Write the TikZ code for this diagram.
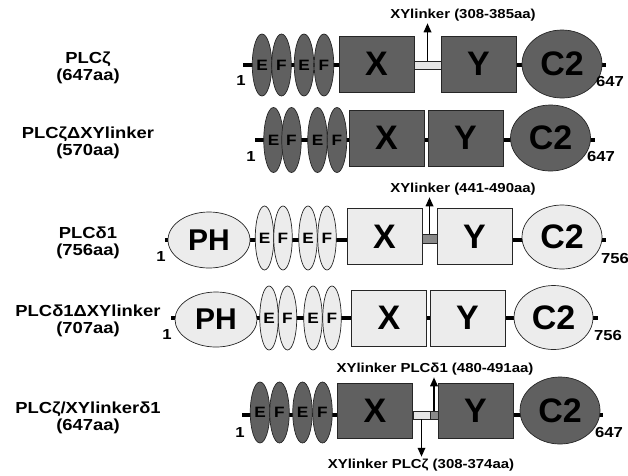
\documentclass[tikz,border=0pt]{standalone}
\usepackage{fontspec}
\setmainfont{Liberation Sans}
\newfontfamily\lblfont{Liberation Sans}[FakeStretch=1.15]
\usetikzlibrary{shapes.geometric,arrows.meta,backgrounds}
\definecolor{zdom}{RGB}{96,96,96}
\definecolor{ddom}{RGB}{236,236,236}
\definecolor{zlink}{RGB}{230,230,230}
\definecolor{dlink}{RGB}{138,138,138}
\tikzset{
  backbone/.style={line width=4.5pt},
  lbl/.style={font=\lblfont\bfseries\fontsize{13}{17}\selectfont, inner sep=2pt},
  numlbl/.style={font=\lblfont\bfseries\fontsize{14.5}{17}\selectfont, inner sep=1pt},
  plcname/.style={font=\lblfont\bfseries\fontsize{16}{17}\selectfont, inner sep=1pt,
    align=center},
  dom/.style={draw=black!85, line width=0.7pt, inner sep=0pt,
    font=\bfseries\fontsize{34}{34}\selectfont},
  zbox/.style={dom, rectangle, fill=zdom, minimum width=75pt, minimum height=56pt},
  dbox/.style={dom, rectangle, fill=ddom, minimum width=75pt, minimum height=56pt},
  zc2/.style={dom, ellipse, fill=zdom, minimum width=80pt, minimum height=68pt},
  dc2/.style={dom, ellipse, fill=ddom, minimum width=80pt, minimum height=64pt},
  ph/.style={dom, ellipse, fill=ddom, minimum width=82pt, minimum height=56pt,
    font=\bfseries\fontsize{30}{30}\selectfont},
  zef/.style={dom, ellipse, fill=zdom, minimum width=19.5pt, minimum height=62pt,
    font=\lblfont\bfseries\fontsize{15}{15}\selectfont},
  efd/.style={dom, ellipse, fill=ddom, minimum width=18.5pt, minimum height=64pt,
    font=\lblfont\bfseries\fontsize{15}{15}\selectfont},
  zlinker/.style={draw=black!85, line width=0.6pt, fill=zlink, inner sep=0pt,
    minimum height=8pt},
  dlinker/.style={draw=black!85, line width=0.6pt, fill=dlink, inner sep=0pt,
    minimum height=9pt},
  pointer/.style={line width=1.7pt, -{Triangle[length=9pt,width=7.5pt]}}
}
\begin{document}
\begin{tikzpicture}[x=1pt,y=-1pt]
  \useasboundingbox (0,0) rectangle (628,475);

  % PLCzeta
  \node[plcname] (nm1) at (88,68) {PLCζ\\(647aa)};
  \coordinate (s1) at (243,65);
  \coordinate (e1) at (606,65);
  \foreach \x/\t [count=\i] in {262/E,281.5/F,304/E,324/F}
    \node[zef] (ef1\i) at (\x,65) {\t};
  \node[zbox] (x1) at (376.5,64) {X};
  \node[zlinker, minimum width=27pt] (l1) at (427.5,65) {};
  \node[zbox] (y1) at (478.5,64) {Y};
  \node[zc2] (c1) at (562,64) {C2};
  \node[lbl] (t1) at (463,15) {XYlinker (308-385aa)};
  \draw[pointer] (l1.north) -- (l1.north |- t1.south);
  \node[numlbl] (a1) at (241,81) {1};
  \node[numlbl] (b1) at (610,82) {647};

  % PLCzeta deleted XY linker
  \node[plcname] (nm2) at (88,143) {PLCζΔXYlinker\\(570aa)};
  \coordinate (s2) at (255,140);
  \coordinate (e2) at (595,140);
  \foreach \x/\t [count=\i] in {273.5/E,291.5/F,317.5/E,337/F}
    \node[zef, minimum height=65pt] (ef2\i) at (\x,140) {\t};
  \node[zbox] (x2) at (386.5,138) {X};
  \node[zbox] (y2) at (465.5,138) {Y};
  \node[zc2, minimum height=66pt] (c2) at (550.5,138) {C2};
  \node[numlbl] (a2) at (251,157) {1};
  \node[numlbl] (b2) at (601,157) {647};

  % PLCdelta1
  \node[plcname] (nm3) at (88,243) {PLCδ1\\(756aa)};
  \coordinate (s3) at (165,240);
  \coordinate (e3) at (606,240);
  \node[ph] (p3) at (209,240) {PH};
  \foreach \x/\t [count=\i] in {264.5/E,283/F,308/E,327/F}
    \node[efd] (ef3\i) at (\x,238) {\t};
  \node[dbox] (x3) at (384.5,236.5) {X};
  \node[dlinker, minimum width=15pt] (l3) at (429.5,239) {};
  \node[dbox] (y3) at (474.5,236.5) {Y};
  \node[dc2] (c3) at (562,237) {C2};
  \node[lbl] (t3) at (463,189) {XYlinker (441-490aa)};
  \draw[pointer] (l3.north) -- (l3.north |- t3.south);
  \node[numlbl] (a3) at (161,257) {1};
  \node[numlbl] (b3) at (615,258) {756};

  % PLCdelta1 deleted XY linker
  \node[plcname] (nm4) at (88,321) {PLCδ1ΔXYlinker\\(707aa)};
  \coordinate (s4) at (171,318);
  \coordinate (e4) at (598,318);
  \node[ph, minimum height=55pt] (p4) at (216,319.5) {PH};
  \foreach \x/\t [count=\i] in {269/E,287.5/F,313/E,332/F}
    \node[efd] (ef4\i) at (\x,318) {\t};
  \node[dbox] (x4) at (389,318) {X};
  \node[dbox] (y4) at (467.5,318) {Y};
  \node[dc2, minimum width=79pt] (c4) at (553.5,317.5) {C2};
  \node[numlbl] (a4) at (167,335) {1};
  \node[numlbl] (b4) at (608,335) {756};

  % PLCzeta with PLCdelta1 XY linker
  \node[plcname] (nm5) at (88,418) {PLCζ/XYlinkerδ1\\(647aa)};
  \coordinate (s5) at (242,415);
  \coordinate (e5) at (603,415);
  \foreach \x/\t [count=\i] in {260/E,279.5/F,302.5/E,322.5/F}
    \node[zef, minimum height=61pt] (ef5\i) at (\x,412.5) {\t};
  \node[zbox, minimum height=55pt] (x5) at (375,410.5) {X};
  \node[zlinker, minimum width=17pt] (l5) at (421.5,415) {};
  \node[dlinker, minimum width=8pt, minimum height=8pt] (m5) at (434,415) {};
  \node[zbox, minimum height=55pt] (y5) at (475.5,410.5) {Y};
  \node[zc2, minimum height=67pt] (c5) at (560,410.5) {C2};
  \node[lbl] (t5) at (435,369) {XYlinker PLCδ1 (480-491aa)};
  \node[lbl] (u5) at (421,465) {XYlinker PLCζ (308-374aa)};
  \draw[pointer] (m5.north) -- (m5.north |- t5.south);
  \draw[pointer] (l5.south) -- (l5.south |- u5.north);
  \node[numlbl] (a5) at (240,432) {1};
  \node[numlbl] (b5) at (609,432) {647};

  \begin{scope}[on background layer]
    \draw[backbone] (s1) -- (e1);
    \draw[backbone] (s2) -- (e2);
    \draw[backbone] (s3) -- (e3);
    \draw[backbone] (s4) -- (e4);
    \draw[backbone] (s5) -- (e5);
  \end{scope}
\end{tikzpicture}
\end{document}
